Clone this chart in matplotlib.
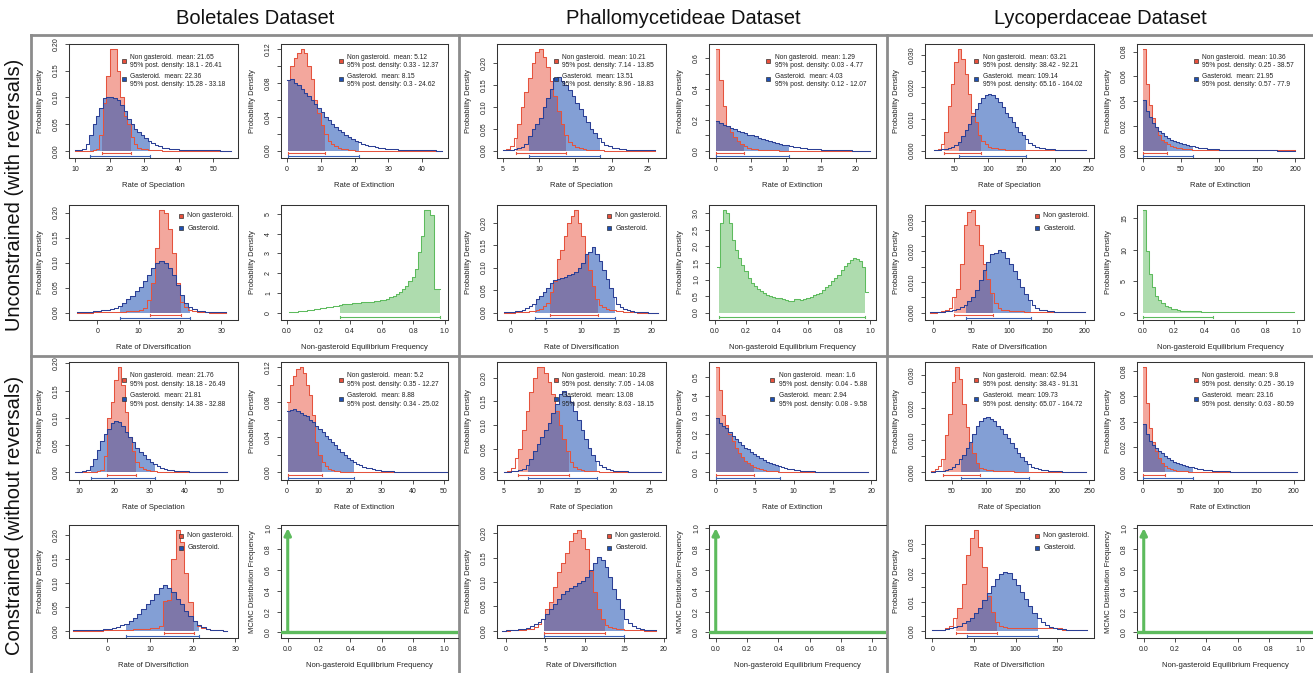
import numpy as np
import matplotlib
matplotlib.use("Agg")
import matplotlib.pyplot as plt

plt.rcParams['font.family'] = ['Liberation Sans', 'DejaVu Sans']

# ======================= DATA =======================
dataset_titles = ["Boletales Dataset", "Phallomycetideae Dataset", "Lycoperdaceae Dataset"]
row_titles = ["Unconstrained (with reversals)", "Constrained (without reversals)"]

# ---- Boletales, unconstrained ----
bol_u_spec_bins = (10.0, 1.0)
bol_u_spec_non = [0, 0, 0, 0, 0, 0.001, 0.003, 0.03, 0.09, 0.14, 0.19, 0.19, 0.15, 0.1, 0.065, 0.05, 0.025, 0.012,
                  0.006, 0.004, 0.003, 0.002, 0.001, 0.001, 0.001] + [0] * 20
bol_u_spec_gas = [0.0005, 0.001, 0.004, 0.012, 0.03, 0.05, 0.065, 0.08, 0.098, 0.1, 0.1, 0.098, 0.095, 0.085, 0.075,
                  0.06, 0.05, 0.04, 0.035, 0.029, 0.024, 0.018, 0.014, 0.01, 0.008, 0.006, 0.005, 0.004, 0.003,
                  0.0025, 0.002, 0.002, 0.0015, 0.0015, 0.001, 0.001, 0.001, 0.001, 0.0008, 0.0006, 0.0005, 0.0004,
                  0.0003, 0.0002, 0.0002]
bol_u_spec_hpd = [(17.8, 26.0), (14.4, 31.7)]
bol_u_spec_stats = ["21.65", "18.1 - 26.41", "22.36", "15.28 - 33.18"]

bol_u_ext_bins = (0.0, 1.0)
bol_u_ext_non = [0.083, 0.1, 0.11, 0.115, 0.12, 0.115, 0.1, 0.085, 0.06, 0.045, 0.03, 0.02, 0.012, 0.008, 0.005,
                 0.003, 0.002, 0.0015, 0.001, 0.001] + [0] * 26
bol_u_ext_gas = [0.084, 0.085, 0.08, 0.077, 0.073, 0.068, 0.064, 0.06, 0.055, 0.05,
                 0.046, 0.04, 0.036, 0.032, 0.028, 0.025, 0.022, 0.019, 0.016, 0.014,
                 0.012, 0.01, 0.008, 0.007, 0.006, 0.005, 0.004, 0.0035, 0.003, 0.0025,
                 0.002, 0.0018, 0.0015, 0.0012, 0.001, 0.001, 0.0008, 0.0007, 0.0006, 0.0005,
                 0.0005, 0.0004, 0.0003, 0.0003, 0.0002, 0.0002]
bol_u_ext_hpd = [(0.3, 11.2), (0.3, 21.2)]
bol_u_ext_stats = ["5.12", "0.33 - 12.37", "8.15", "0.3 - 24.62"]

bol_u_div_bins = (-5.0, 1.0)
bol_u_div_non = [0, 0, 0, 0, 0.001, 0.001, 0.001, 0.001, 0.001, 0.001,
                 0.002, 0.002, 0.003, 0.003, 0.004, 0.005,
                 0.01, 0.025, 0.06, 0.13, 0.205, 0.2, 0.168, 0.12, 0.06, 0.022, 0.012, 0.006, 0.003, 0.002,
                 0.001, 0.001, 0, 0, 0, 0]
bol_u_div_gas = [0.001, 0.001, 0.002, 0.002, 0.003, 0.004, 0.005, 0.006, 0.008, 0.01,
                 0.014, 0.02, 0.027, 0.034, 0.043, 0.052, 0.063, 0.075, 0.09, 0.1,
                 0.103, 0.1, 0.09, 0.075, 0.055, 0.035, 0.02, 0.012, 0.007, 0.004,
                 0.003, 0.002, 0.001, 0.001, 0.001, 0.001]
bol_u_div_hpd = [(12.8, 20.2), (5.4, 22.4)]

bol_u_freq_bins = (0.01, 0.02)
bol_u_freq = [0.02, 0.03, 0.05, 0.06, 0.08, 0.1, 0.12, 0.15, 0.17, 0.2,
              0.22, 0.24, 0.27, 0.3, 0.33, 0.36, 0.4, 0.42, 0.45, 0.46,
              0.48, 0.5, 0.5, 0.52, 0.52, 0.54, 0.55, 0.57, 0.6, 0.62,
              0.65, 0.7, 0.78, 0.85, 0.95, 1.05, 1.2, 1.35, 1.6, 1.8,
              2.2, 3.1, 3.9, 5.2, 5.2, 4.95, 1.2, 1.2]
bol_u_freq_hpd = (0.333, 0.97)

# ---- Phallomycetideae, unconstrained ----
pha_u_spec_bins = (5.0, 0.5)
pha_u_spec_non = [0.001, 0.004, 0.01, 0.03, 0.06, 0.1, 0.135, 0.165, 0.2, 0.225, 0.232, 0.215, 0.19, 0.16, 0.125,
                  0.09, 0.06, 0.035, 0.02, 0.012, 0.008, 0.005, 0.003, 0.002, 0.001, 0.001, 0.001, 0.001] + [0] * 14
pha_u_spec_gas = [0.001, 0.001, 0.002, 0.003, 0.005, 0.008, 0.015, 0.033, 0.05, 0.06,
                  0.075, 0.1, 0.12, 0.14, 0.165, 0.168, 0.16, 0.15, 0.138, 0.124,
                  0.11, 0.095, 0.08, 0.065, 0.05, 0.04, 0.03, 0.02, 0.014, 0.01,
                  0.007, 0.005, 0.004, 0.003, 0.002, 0.002, 0.001, 0.001, 0.001, 0.001, 0.001, 0.001]
pha_u_spec_hpd = [(6.9, 13.7), (8.6, 18.4)]
pha_u_spec_stats = ["10.21", "7.14 - 13.85", "13.51", "8.96 - 18.83"]

pha_u_ext_bins = (0.0, 0.5)
pha_u_ext_non = [0.66, 0.46, 0.29, 0.16, 0.12, 0.09, 0.065, 0.045, 0.03, 0.02,
                 0.014, 0.01, 0.007, 0.005, 0.004, 0.003, 0.002, 0.002, 0.001] + [0] * 25
pha_u_ext_gas = [0.195, 0.18, 0.17, 0.16, 0.15, 0.14, 0.13, 0.12, 0.115, 0.105,
                 0.1, 0.093, 0.085, 0.078, 0.07, 0.063, 0.057, 0.05, 0.045, 0.04,
                 0.035, 0.03, 0.026, 0.022, 0.019, 0.016, 0.014, 0.012, 0.01, 0.008,
                 0.007, 0.006, 0.005, 0.004, 0.003, 0.003, 0.002, 0.002, 0.002, 0.001,
                 0.001, 0.001, 0.001, 0.001]
pha_u_ext_hpd = [(0.0, 4.0), (0.0, 10.5)]
pha_u_ext_stats = ["1.29", "0.03 - 4.77", "4.03", "0.12 - 12.07"]

pha_u_div_bins = (-1.0, 0.5)
pha_u_div_non = [0, 0, 0, 0.001, 0.001, 0.002, 0.002, 0.003,
                 0.004, 0.006, 0.009, 0.014, 0.022, 0.045, 0.07, 0.12, 0.14, 0.17,
                 0.2, 0.215, 0.228, 0.2, 0.17, 0.13, 0.095, 0.06, 0.03, 0.018,
                 0.012, 0.008, 0.006, 0.005, 0.004, 0.003, 0.002, 0.002, 0.001, 0.001,
                 0, 0, 0, 0, 0, 0]
pha_u_div_gas = [0.001, 0.001, 0.002, 0.003, 0.004, 0.006, 0.01, 0.015,
                 0.02, 0.03, 0.038, 0.045, 0.055, 0.065, 0.072, 0.074, 0.076, 0.08, 0.083, 0.086, 0.09, 0.1,
                 0.11, 0.13, 0.135, 0.145, 0.13, 0.115, 0.095, 0.075, 0.055, 0.035,
                 0.02, 0.012, 0.008, 0.005, 0.003, 0.002, 0.001, 0.001, 0.001, 0, 0, 0]
pha_u_div_hpd = [(5.5, 12.4), (3.4, 14.8)]

pha_u_freq_bins = (0.01, 0.02)
pha_u_freq = [1.38, 2.7, 3.1, 3.0, 2.7, 2.2, 1.9, 1.65, 1.45, 1.25,
              1.05, 0.9, 0.8, 0.72, 0.65, 0.58, 0.52, 0.5, 0.47, 0.45,
              0.43, 0.4, 0.37, 0.34, 0.36, 0.4, 0.4, 0.39, 0.41, 0.44,
              0.48, 0.52, 0.55, 0.6, 0.68, 0.76, 0.85, 0.95, 1.05, 1.15,
              1.28, 1.4, 1.5, 1.6, 1.65, 1.62, 1.55, 1.38, 0.62]
pha_u_freq_hpd = (0.027, 0.965)

# ---- Lycoperdaceae, unconstrained ----
lyc_u_spec_bins = (20.0, 5.0)
lyc_u_spec_non = [0.0002, 0.0005, 0.002, 0.006, 0.014, 0.021, 0.028, 0.032, 0.029, 0.024, 0.018, 0.012, 0.009,
                  0.005, 0.003, 0.002, 0.0012, 0.001, 0.0007, 0.0005, 0.0004, 0.0003, 0.0002, 0.0002] + [0.0001] * 21
lyc_u_spec_gas = [0.0002, 0.0003, 0.0004, 0.0005, 0.0008, 0.0012, 0.0018, 0.0028, 0.0045, 0.0065,
                  0.0085, 0.011, 0.013, 0.015, 0.0165, 0.0175, 0.018, 0.0175, 0.0165, 0.0152,
                  0.0138, 0.012, 0.0105, 0.009, 0.0075, 0.006, 0.0048, 0.0036, 0.0025, 0.0018,
                  0.0013, 0.001, 0.0008, 0.0006, 0.0005, 0.0004, 0.0003, 0.0003, 0.0002, 0.0002,
                  0.0001, 0.0001, 0.0001, 0.0001, 0.0001]
lyc_u_spec_hpd = [(35.0, 90.0), (57.0, 157.0)]
lyc_u_spec_stats = ["63.21", "38.42 - 92.21", "109.14", "65.16 - 164.02"]

lyc_u_ext_bins = (0.0, 4.0)
lyc_u_ext_non = [0.082, 0.054, 0.037, 0.026, 0.019, 0.013, 0.009, 0.007, 0.005, 0.004,
                 0.003, 0.0025, 0.002, 0.0015, 0.0012, 0.001, 0.0008, 0.0006, 0.0005, 0.0004] + [0.0002] * 30
lyc_u_ext_gas = [0.041, 0.032, 0.027, 0.022, 0.019, 0.016, 0.014, 0.012, 0.0105, 0.009,
                 0.008, 0.007, 0.006, 0.005, 0.0045, 0.004, 0.0035, 0.003, 0.0025, 0.002,
                 0.0018, 0.0015, 0.0013, 0.0011, 0.001, 0.0009, 0.0008, 0.0007, 0.0006, 0.0006,
                 0.0005, 0.0005, 0.0004, 0.0004, 0.0004, 0.0003, 0.0003, 0.0003, 0.0003, 0.0002,
                 0.0002, 0.0002, 0.0002, 0.0002, 0.0001, 0.0001, 0.0001, 0.0001, 0.0001, 0.0001]
lyc_u_ext_hpd = [(0.0, 32.0), (0.0, 66.0)]
lyc_u_ext_stats = ["10.36", "0.25 - 38.57", "21.95", "0.57 - 77.9"]

lyc_u_div_bins = (-5.0, 5.0)
lyc_u_div_non = [0, 0, 0.0002, 0.0004, 0.0008, 0.0016, 0.005, 0.0078, 0.016, 0.0286,
                 0.033, 0.0335, 0.0285, 0.022, 0.016, 0.011, 0.0065, 0.003, 0.0015, 0.001,
                 0.0008, 0.0006, 0.0005, 0.0004, 0.0004, 0.0003, 0.0003] + [0.0002] * 14
lyc_u_div_gas = [0.0001, 0.0002, 0.0002, 0.0003, 0.0004, 0.0005, 0.0008, 0.0012, 0.0018, 0.0026,
                 0.0038, 0.0052, 0.0075, 0.0105, 0.014, 0.0165, 0.019, 0.0195, 0.0205, 0.0198,
                 0.018, 0.016, 0.0135, 0.011, 0.0085, 0.006, 0.004, 0.0024, 0.0015, 0.001,
                 0.0008, 0.0006, 0.0004, 0.0003, 0.0002, 0.0002, 0.0001, 0.0001, 0.0001, 0.0001, 0.0001]
lyc_u_div_hpd = [(27.4, 78.8), (43.4, 129.0)]

lyc_u_freq_bins = (0.0, 0.02)
lyc_u_freq = [16.3, 9.8, 6.2, 4.1, 2.7, 2.0, 1.5, 1.1, 0.85, 0.65,
              0.5, 0.4, 0.33, 0.28, 0.25, 0.22, 0.2, 0.19, 0.18, 0.17,
              0.17, 0.16, 0.16, 0.15, 0.15, 0.15, 0.15, 0.15, 0.15, 0.15,
              0.15, 0.15, 0.15, 0.15, 0.15, 0.15, 0.15, 0.15, 0.15, 0.15,
              0.15, 0.15, 0.15, 0.15, 0.15, 0.15, 0.15, 0.16, 0.16]
lyc_u_freq_hpd = (0.0, 0.453)

# ---- Boletales, constrained ----
bol_c_spec_bins = (9.0, 1.0)
bol_c_spec_non = [0, 0, 0, 0, 0, 0.001, 0.002,
                  0.005, 0.03, 0.1, 0.13, 0.17, 0.193, 0.16, 0.11, 0.065, 0.04, 0.02, 0.01, 0.006, 0.004, 0.003,
                  0.002, 0.001, 0.001, 0.001, 0.001] + [0] * 16
bol_c_spec_gas = [0, 0.001, 0.002, 0.005, 0.012, 0.025, 0.042, 0.058, 0.07, 0.08,
                  0.09, 0.095, 0.092, 0.085, 0.075, 0.065, 0.055, 0.045, 0.038, 0.032,
                  0.025, 0.02, 0.015, 0.012, 0.009, 0.007, 0.005, 0.004, 0.003, 0.0025,
                  0.002, 0.0018, 0.0015, 0.0012, 0.001, 0.001, 0.0008, 0.0006, 0.0005, 0.0004,
                  0.0003, 0.0002, 0.0002]
bol_c_spec_hpd = [(17.9, 26.2), (13.5, 31.4)]
bol_c_spec_stats = ["21.76", "18.18 - 26.49", "21.81", "14.38 - 32.88"]

bol_c_ext_bins = (0.0, 1.0)
bol_c_ext_non = [0.08, 0.1, 0.11, 0.118, 0.12, 0.113, 0.1, 0.088, 0.065, 0.035,
                 0.02, 0.012, 0.007, 0.004, 0.003, 0.002, 0.0015, 0.001, 0.001, 0.0008] + [0] * 31
bol_c_ext_gas = [0.07, 0.071, 0.072, 0.07, 0.068, 0.066, 0.064, 0.06, 0.057, 0.053,
                 0.05, 0.046, 0.042, 0.038, 0.035, 0.031, 0.027, 0.023, 0.02, 0.017,
                 0.014, 0.012, 0.01, 0.008, 0.0065, 0.0055, 0.0045, 0.0037, 0.003, 0.0025,
                 0.002, 0.0017, 0.0014, 0.0012, 0.001, 0.0008, 0.0007, 0.0006, 0.0005, 0.0005,
                 0.0004, 0.0004, 0.0003, 0.0003, 0.0003, 0.0002, 0.0002, 0.0002, 0.0001, 0.0001, 0.0001]
bol_c_ext_hpd = [(0.3, 11.0), (0.3, 21.2)]
bol_c_ext_stats = ["5.2", "0.35 - 12.27", "8.88", "0.34 - 25.02"]

bol_c_div_bins = (-8.0, 1.0)
bol_c_div_non = [0, 0, 0, 0, 0, 0, 0, 0.001, 0.001, 0.001, 0.001, 0.002, 0.002,
                 0.002, 0.003, 0.003, 0.004, 0.004, 0.005, 0.006, 0.01,
                 0.063, 0.065, 0.15, 0.21, 0.185, 0.12, 0.06, 0.02,
                 0.01, 0.005, 0.003, 0.002, 0.001, 0.001, 0]
bol_c_div_gas = [0.001, 0.001, 0.001, 0.001, 0.001, 0.002, 0.002, 0.003, 0.004, 0.006,
                 0.008, 0.011, 0.015, 0.02, 0.027, 0.035, 0.045, 0.055, 0.065, 0.077,
                 0.09, 0.095, 0.09, 0.08, 0.067, 0.055, 0.042, 0.03, 0.02, 0.012,
                 0.007, 0.004, 0.002, 0.001, 0.001, 0]
bol_c_div_hpd = [(13.2, 20.2), (4.3, 21.5)]

# ---- Phallomycetideae, constrained ----
pha_c_spec_bins = (5.0, 0.5)
pha_c_spec_non = [0.001, 0.003, 0.01, 0.03, 0.05, 0.09, 0.13, 0.17, 0.2, 0.222,
                  0.222, 0.21, 0.19, 0.165, 0.13, 0.1, 0.07, 0.045, 0.022, 0.012,
                  0.008, 0.005, 0.004, 0.003, 0.002, 0.002, 0.001, 0.001, 0.001, 0.001] + [0] * 13
pha_c_spec_gas = [0.001, 0.001, 0.002, 0.003, 0.005, 0.008, 0.015, 0.028, 0.045, 0.06,
                  0.075, 0.09, 0.105, 0.125, 0.145, 0.165, 0.172, 0.162, 0.148, 0.13,
                  0.11, 0.09, 0.07, 0.052, 0.037, 0.025, 0.016, 0.011, 0.008, 0.006,
                  0.004, 0.003, 0.002, 0.002, 0.001, 0.001, 0.001, 0.001, 0.001, 0, 0, 0, 0]
pha_c_spec_hpd = [(6.9, 13.9), (8.3, 17.7)]
pha_c_spec_stats = ["10.28", "7.05 - 14.08", "13.08", "8.63 - 18.15"]

pha_c_ext_bins = (0.0, 0.4)
pha_c_ext_non = [0.55, 0.43, 0.3, 0.25, 0.2, 0.165, 0.13, 0.1, 0.08, 0.062,
                 0.048, 0.037, 0.028, 0.022, 0.017, 0.013, 0.01, 0.008, 0.006, 0.005,
                 0.004, 0.003, 0.0025, 0.002, 0.0015, 0.001, 0.001, 0.001, 0.001, 0.001] + [0] * 19
pha_c_ext_gas = [0.285, 0.26, 0.245, 0.23, 0.21, 0.19, 0.175, 0.16, 0.145, 0.13,
                 0.12, 0.105, 0.095, 0.085, 0.075, 0.065, 0.057, 0.05, 0.043, 0.037,
                 0.032, 0.027, 0.023, 0.02, 0.017, 0.014, 0.012, 0.01, 0.0085, 0.007,
                 0.006, 0.005, 0.004, 0.0035, 0.003, 0.0025, 0.002, 0.0017, 0.0014, 0.0012,
                 0.001, 0.001, 0.0008, 0.0007, 0.0006, 0.0005, 0.0004, 0.0003, 0.0003]
pha_c_ext_hpd = [(0.0, 4.9), (0.0, 8.2)]
pha_c_ext_stats = ["1.6", "0.04 - 5.88", "2.94", "0.08 - 9.58"]

pha_c_div_bins = (-0.5, 0.5)
pha_c_div_non = [0, 0, 0.001, 0.001, 0.002, 0.002, 0.003, 0.004,
                 0.007, 0.013, 0.025, 0.045, 0.06, 0.09, 0.12, 0.14, 0.16, 0.185,
                 0.2, 0.207, 0.19, 0.168, 0.123, 0.08, 0.045, 0.025, 0.012, 0.007,
                 0.005, 0.004, 0.003, 0.002, 0.002, 0.001, 0.001, 0.001, 0, 0, 0]
pha_c_div_gas = [0.0005, 0.001, 0.001, 0.002, 0.003, 0.004, 0.006, 0.009, 0.013, 0.018,
                 0.025, 0.035, 0.045, 0.055, 0.065, 0.075, 0.082, 0.088, 0.093, 0.098,
                 0.103, 0.11, 0.125, 0.14, 0.152, 0.145, 0.13, 0.11, 0.085, 0.065,
                 0.045, 0.025, 0.015, 0.01, 0.006, 0.004, 0.002, 0.001, 0.001]
pha_c_div_hpd = [(4.8, 12.5), (4.8, 15.0)]

# ---- Lycoperdaceae, constrained ----
lyc_c_spec_bins = (20.0, 5.0)
lyc_c_spec_non = [0.0003, 0.001, 0.002, 0.004, 0.0115, 0.018, 0.028, 0.0325, 0.029, 0.021,
                  0.014, 0.0095, 0.006, 0.003, 0.0015, 0.001, 0.0008, 0.0006, 0.0005, 0.0004,
                  0.0004, 0.0003, 0.0003, 0.0003, 0.0002] + [0.0002] * 20
lyc_c_spec_gas = [0.0002, 0.0003, 0.0004, 0.0005, 0.0008, 0.0012, 0.0018, 0.0025, 0.004, 0.0055,
                  0.0075, 0.0095, 0.012, 0.0145, 0.016, 0.0168, 0.017, 0.0165, 0.016, 0.0145,
                  0.0135, 0.012, 0.0105, 0.009, 0.0075, 0.006, 0.0048, 0.0035, 0.0025, 0.0018,
                  0.0013, 0.001, 0.0008, 0.0006, 0.0005, 0.0004, 0.0003, 0.0003, 0.0002, 0.0002,
                  0.0001, 0.0001, 0.0001, 0.0001, 0.0001]
lyc_c_spec_hpd = [(37.8, 91.0), (63.0, 163.0)]
lyc_c_spec_stats = ["62.94", "38.43 - 91.31", "109.73", "65.07 - 164.72"]

lyc_c_ext_bins = (0.0, 4.0)
lyc_c_ext_non = [0.083, 0.055, 0.035, 0.024, 0.017, 0.011, 0.0075, 0.005, 0.0035, 0.0025,
                 0.002, 0.0015, 0.0012, 0.001, 0.0008, 0.0006, 0.0005, 0.0004, 0.0003, 0.0003] + [0.0002] * 31
lyc_c_ext_gas = [0.038, 0.03, 0.025, 0.022, 0.019, 0.017, 0.015, 0.013, 0.011, 0.0095,
                 0.0085, 0.0075, 0.0065, 0.0055, 0.005, 0.0045, 0.004, 0.0035, 0.003, 0.0026,
                 0.0023, 0.002, 0.0017, 0.0015, 0.0013, 0.0011, 0.001, 0.0009, 0.0008, 0.0007,
                 0.0006, 0.0005, 0.0005, 0.0004, 0.0004, 0.0003, 0.0003, 0.0003, 0.0002, 0.0002,
                 0.0002, 0.0002, 0.0002, 0.0001, 0.0001, 0.0001, 0.0001, 0.0001, 0.0001, 0.0001, 0.0001]
lyc_c_ext_hpd = [(0.0, 28.6), (0.0, 67.0)]
lyc_c_ext_stats = ["9.8", "0.25 - 36.19", "23.16", "0.63 - 80.59"]

lyc_c_div_bins = (0.0, 5.0)
lyc_c_div_non = [0.0001, 0.0002, 0.0004, 0.0008, 0.0015, 0.0045, 0.008, 0.016, 0.026, 0.032,
                 0.0347, 0.029, 0.022, 0.012, 0.0066, 0.003, 0.0015, 0.0012, 0.001, 0.0009] \
                + [0.0008] * 11 + [0.0002] * 6
lyc_c_div_gas = [0.0001, 0.0002, 0.0003, 0.0005, 0.0008, 0.0012, 0.0018, 0.0026, 0.0035, 0.0045,
                 0.006, 0.008, 0.0105, 0.013, 0.0155, 0.018, 0.0195, 0.0202, 0.0198, 0.018,
                 0.0158, 0.0135, 0.011, 0.0085, 0.0062, 0.0045, 0.003, 0.002, 0.0014, 0.001,
                 0.0007, 0.0005, 0.0003, 0.0002, 0.0002, 0.0001, 0.0001]
lyc_c_div_hpd = [(28.0, 77.0), (41.5, 126.5)]

# ---- constrained equilibrium frequency: all MCMC samples at 0 ----
mcmc_freq_x = [0.0]
mcmc_freq_y = [1.0]

# ======================= STYLE / LAYOUT =======================
RED_LINE = "#E5533D"
RED_FILL = "#E8503C"
BLUE_LINE = "#2B3F95"
BLUE_FILL = "#1E50B4"
BLUE_BAR = "#3A62B5"
GREEN_LINE = "#5DBB5D"
GREEN_FILL = "#6CC06C"
TXT = "#222222"

W, H = 1313, 673
fig = plt.figure(figsize=(W / 100, H / 100), dpi=100)

bg = fig.add_axes([0, 0, 1, 1], zorder=-5)
bg.set_xlim(0, W)
bg.set_ylim(H, 0)
bg.axis('off')

COL_X0 = [30, 458, 886]
ROW_Y = [(44, 158), (205, 320), (362, 480), (525, 638)]
SIDE_X = [(39, 208), (251, 418)]


def make_ax(col, row, side, right_extra=0):
    x0 = COL_X0[col] + SIDE_X[side][0]
    x1 = COL_X0[col] + SIDE_X[side][1] + right_extra
    y0, y1 = ROW_Y[row]
    return fig.add_axes([x0 / W, 1 - y1 / H, (x1 - x0) / W, (y1 - y0) / H])


def style_ax(ax, xlim, ylim, xticks, xlabels, yticks, ylabels, xlabel, ylabel):
    ax.set_xlim(*xlim)
    ax.set_ylim(*ylim)
    ax.set_xticks(xticks)
    ax.set_xticklabels(xlabels)
    ax.set_yticks(yticks)
    ax.set_yticklabels(ylabels, rotation=90, va='center')
    ax.tick_params(direction='out', length=3.0, width=0.6, labelsize=5, colors='#333333', labelcolor=TXT)
    ax.tick_params(axis='x', pad=2.5)
    ax.tick_params(axis='y', pad=3.5)
    for s in ax.spines.values():
        s.set_linewidth(0.75)
        s.set_color('#333333')
    ax.set_xlabel(xlabel, fontsize=5.5, labelpad=7.0, color=TXT)
    ax.set_ylabel(ylabel, fontsize=5.5, labelpad=6.5, color=TXT)


def hist_geom(bins, h):
    start, width = bins
    h = np.asarray(h, float)
    edges = start + width * np.arange(len(h) + 1)
    return edges, h


def fill_hpd(ax, bins, h, hpd, color, alpha, z):
    edges, h = hist_geom(bins, h)
    lo, hi = hpd
    xs, ys = [lo], [0.0]
    for i in range(len(h)):
        a, b = edges[i], edges[i + 1]
        if b <= lo or a >= hi:
            continue
        xs += [max(a, lo), min(b, hi)]
        ys += [h[i], h[i]]
    xs.append(hi)
    ys.append(0.0)
    ax.fill(xs, ys, facecolor=color, alpha=alpha, edgecolor='none', zorder=z)


def outline(ax, bins, h, color, z):
    edges, h = hist_geom(bins, h)
    ax.step(edges, np.append(h, h[-1]), where='post', color=color, lw=0.75, zorder=z)


def ci_bar(ax, hpd, y, cap, color):
    lo, hi = hpd
    ax.plot([lo, hi], [y, y], color=color, lw=0.8, zorder=5, solid_capstyle='butt')
    for xx in (lo, hi):
        ax.plot([xx, xx], [y - cap, y + cap], color=color, lw=0.8, zorder=5)


def pair_panel(ax, bins, non, gas, hpd):
    p = max(max(non), max(gas))
    fill_hpd(ax, bins, non, hpd[0], RED_FILL, 0.5, 2)
    fill_hpd(ax, bins, gas, hpd[1], BLUE_FILL, 0.55, 3)
    outline(ax, bins, non, RED_LINE, 4)
    outline(ax, bins, gas, BLUE_LINE, 4.5)
    ci_bar(ax, hpd[0], -0.026 * p, 0.011 * p, RED_LINE)
    ci_bar(ax, hpd[1], -0.052 * p, 0.011 * p, BLUE_BAR)
    return (-0.072 * p, 1.05 * p)


def green_panel(ax, bins, h, hpd):
    p = max(h)
    fill_hpd(ax, bins, h, hpd, GREEN_FILL, 0.55, 2)
    outline(ax, bins, h, GREEN_LINE, 4)
    ci_bar(ax, hpd, -0.042 * p, 0.011 * p, GREEN_LINE)
    return (-0.072 * p, 1.05 * p)


def stats_legend(ax, sx, tx, stats):
    lines = ["Non gasteroid.  mean: " + stats[0], "95% post. density: " + stats[1],
             "Gasteroid.  mean: " + stats[2], "95% post. density: " + stats[3]]
    for t, y in zip(lines, [0.885, 0.812, 0.715, 0.642]):
        ax.text(tx, y, t, transform=ax.transAxes, fontsize=4.8, va='center', ha='left', color=TXT, zorder=6)
    ax.plot([sx], [0.848], 's', transform=ax.transAxes, ms=2.6, mfc=RED_FILL, mec='#333333', mew=0.5, zorder=6)
    ax.plot([sx], [0.69], 's', transform=ax.transAxes, ms=2.6, mfc=BLUE_FILL, mec='#333333', mew=0.5, zorder=6)


def div_legend(ax):
    for y, c, t in [(0.905, RED_FILL, "Non gasteroid."), (0.797, BLUE_FILL, "Gasteroid.")]:
        ax.plot([0.665], [y], 's', transform=ax.transAxes, ms=2.6, mfc=c, mec='#333333', mew=0.5, zorder=6)
        ax.text(0.70, y, t, transform=ax.transAxes, fontsize=5.0, va='center', ha='left', color=TXT, zorder=6)


def yt(vals, fmt, every=1):
    return list(vals), [fmt.format(v) if i % every == 0 else '' for i, v in enumerate(vals)]


PD = "Probability Density"
FREQ_X = "Non-gasteroid Equilibrium Frequency"
x01 = ([0, 0.2, 0.4, 0.6, 0.8, 1.0], ["0.0", "0.2", "0.4", "0.6", "0.8", "1.0"])

# ---------- pair panels (speciation / extinction / diversification) ----------
pair_specs = [
    (0, 0, 0, bol_u_spec_bins, bol_u_spec_non, bol_u_spec_gas, bol_u_spec_hpd, bol_u_spec_stats, (0.325, 0.36),
     (8.2, 57.1), [10, 20, 30, 40, 50], yt(np.arange(0, 0.201, 0.05), "{:.2f}"), "Rate of Speciation"),
    (0, 0, 1, bol_u_ext_bins, bol_u_ext_non, bol_u_ext_gas, bol_u_ext_hpd, bol_u_ext_stats, (0.358, 0.394),
     (-1.8, 47.7), [0, 10, 20, 30, 40], yt(np.arange(0, 0.121, 0.02), "{:.2f}", 2), "Rate of Extinction"),
    (0, 1, 0, bol_u_div_bins, bol_u_div_non, bol_u_div_gas, bol_u_div_hpd, None, None,
     (-6.85, 34.0), [0, 10, 20, 30], yt(np.arange(0, 0.201, 0.05), "{:.2f}"), "Rate of Diversification"),
    (1, 0, 0, pha_u_spec_bins, pha_u_spec_non, pha_u_spec_gas, pha_u_spec_hpd, pha_u_spec_stats, (0.347, 0.383),
     (4.22, 27.5), [5, 10, 15, 20, 25], yt(np.arange(0, 0.201, 0.05), "{:.2f}"), "Rate of Speciation"),
    (1, 0, 1, pha_u_ext_bins, pha_u_ext_non, pha_u_ext_gas, pha_u_ext_hpd, pha_u_ext_stats, (0.356, 0.396),
     (-0.95, 22.9), [0, 5, 10, 15, 20], yt(np.arange(0, 0.61, 0.1), "{:.1f}", 2), "Rate of Extinction"),
    (1, 1, 0, pha_u_div_bins, pha_u_div_non, pha_u_div_gas, pha_u_div_hpd, None, None,
     (-2.0, 22.1), [0, 5, 10, 15, 20], yt(np.arange(0, 0.201, 0.05), "{:.2f}"), "Rate of Diversification"),
    (2, 0, 0, lyc_u_spec_bins, lyc_u_spec_non, lyc_u_spec_gas, lyc_u_spec_hpd, lyc_u_spec_stats, (0.303, 0.341),
     (6.2, 257.5), [50, 100, 150, 200, 250], yt(np.arange(0, 0.0301, 0.005), "{:.3f}", 2), "Rate of Speciation"),
    (2, 0, 1, lyc_u_ext_bins, lyc_u_ext_non, lyc_u_ext_gas, lyc_u_ext_hpd, lyc_u_ext_stats, (0.352, 0.392),
     (-7.8, 211.7), [0, 50, 100, 150, 200], yt(np.arange(0, 0.081, 0.02), "{:.2f}"), "Rate of Extinction"),
    (2, 1, 0, lyc_u_div_bins, lyc_u_div_non, lyc_u_div_gas, lyc_u_div_hpd, None, None,
     (-11.1, 212.4), [0, 50, 100, 150, 200], yt(np.arange(0, 0.0301, 0.005), "{:.3f}", 2), "Rate of Diversification"),
    (0, 2, 0, bol_c_spec_bins, bol_c_spec_non, bol_c_spec_gas, bol_c_spec_hpd, bol_c_spec_stats, (0.325, 0.363),
     (7.2, 55.0), [10, 20, 30, 40, 50], yt(np.arange(0, 0.201, 0.05), "{:.2f}"), "Rate of Speciation"),
    (0, 2, 1, bol_c_ext_bins, bol_c_ext_non, bol_c_ext_gas, bol_c_ext_hpd, bol_c_ext_stats, (0.358, 0.398),
     (-1.94, 51.3), [0, 10, 20, 30, 40, 50], yt(np.arange(0, 0.121, 0.02), "{:.2f}", 2), "Rate of Extinction"),
    (0, 3, 0, bol_c_div_bins, bol_c_div_non, bol_c_div_gas, bol_c_div_hpd, None, None,
     (-8.96, 30.6), [0, 10, 20, 30], yt(np.arange(0, 0.201, 0.05), "{:.2f}"), "Rate of Diversifiction"),
    (1, 2, 0, pha_c_spec_bins, pha_c_spec_non, pha_c_spec_gas, pha_c_spec_hpd, pha_c_spec_stats, (0.347, 0.387),
     (4.07, 27.2), [5, 10, 15, 20, 25], yt(np.arange(0, 0.201, 0.05), "{:.2f}"), "Rate of Speciation"),
    (1, 2, 1, pha_c_ext_bins, pha_c_ext_non, pha_c_ext_gas, pha_c_ext_hpd, pha_c_ext_stats, (0.38, 0.42),
     (-0.9, 20.6), [0, 5, 10, 15, 20], yt(np.arange(0, 0.51, 0.1), "{:.1f}"), "Rate of Extinction"),
    (1, 3, 0, pha_c_div_bins, pha_c_div_non, pha_c_div_gas, pha_c_div_hpd, None, None,
     (-1.14, 20.3), [0, 5, 10, 15, 20], yt(np.arange(0, 0.201, 0.05), "{:.2f}"), "Rate of Diversifiction"),
    (2, 2, 0, lyc_c_spec_bins, lyc_c_spec_non, lyc_c_spec_gas, lyc_c_spec_hpd, lyc_c_spec_stats, (0.303, 0.341),
     (11.0, 257.0), [50, 100, 150, 200, 250], yt(np.arange(0, 0.0301, 0.005), "{:.3f}", 2), "Rate of Speciation"),
    (2, 2, 1, lyc_c_ext_bins, lyc_c_ext_non, lyc_c_ext_gas, lyc_c_ext_hpd, lyc_c_ext_stats, (0.352, 0.392),
     (-7.9, 213.7), [0, 50, 100, 150, 200], yt(np.arange(0, 0.081, 0.02), "{:.2f}"), "Rate of Extinction"),
    (2, 3, 0, lyc_c_div_bins, lyc_c_div_non, lyc_c_div_gas, lyc_c_div_hpd, None, None,
     (-8.8, 194.0), [0, 50, 100, 150], yt(np.arange(0, 0.0301, 0.005), "{:.2f}", 2), "Rate of Diversifiction"),
]

for (col, row, side, bins, non, gas, hpd, stats, legx, xlim, xt, ytk, xlab) in pair_specs:
    ax = make_ax(col, row, side)
    ylim = pair_panel(ax, bins, non, gas, hpd)
    style_ax(ax, xlim, ylim, xt, [str(v) for v in xt], ytk[0], ytk[1], xlab, PD)
    if stats is not None:
        stats_legend(ax, legx[0], legx[1], stats)
    else:
        div_legend(ax)

# ---------- equilibrium frequency (unconstrained) ----------
green_specs = [
    (0, 1, bol_u_freq_bins, bol_u_freq, bol_u_freq_hpd, (-0.038, 1.021), yt(range(0, 6), "{:d}")),
    (1, 1, pha_u_freq_bins, pha_u_freq, pha_u_freq_hpd, (-0.039, 1.039), yt(np.arange(0, 3.01, 0.5), "{:.1f}")),
    (2, 1, lyc_u_freq_bins, lyc_u_freq, lyc_u_freq_hpd, (-0.039, 1.048), yt(range(0, 16, 5), "{:d}")),
]
for (col, row, bins, h, hpd, xlim, ytk) in green_specs:
    ax = make_ax(col, row, 1)
    ylim = green_panel(ax, bins, h, hpd)
    style_ax(ax, xlim, ylim, x01[0], x01[1], ytk[0], ytk[1], FREQ_X, PD)

# ---------- equilibrium frequency (constrained): MCMC ----------
for col in range(3):
    ax = make_ax(col, 3, 1, right_extra=10)
    ax.axhline(0, color=GREEN_LINE, lw=2.4, zorder=3)
    for xv, yv in zip(mcmc_freq_x, mcmc_freq_y):
        ax.annotate('', xy=(xv, yv), xytext=(xv, 0),
                    arrowprops=dict(arrowstyle='-|>', color=GREEN_LINE, lw=2.2, mutation_scale=10,
                                    shrinkA=0, shrinkB=0), zorder=4)
    yv_t = [0, 0.2, 0.4, 0.6, 0.8, 1.0]
    style_ax(ax, (-0.043, 1.088), (-0.053, 1.03), x01[0], x01[1], yv_t,
             ["0.0", "0.2", "0.4", "0.6", "0.8", "1.0"], FREQ_X, "MCMC Distribution Frequency")
    ax.spines['right'].set_visible(False)

# ---------- frame, titles, row labels ----------
FRAME = "#8c8c8c"
bg.plot([31, W], [35, 35], color=FRAME, lw=2.0)
bg.plot([31, 31], [35, H], color=FRAME, lw=2.0)
bg.plot([459, 459], [35, H], color=FRAME, lw=2.0)
bg.plot([887, 887], [35, H], color=FRAME, lw=2.0)
bg.plot([31, W], [356, 356], color=FRAME, lw=2.0)

for cx, t in zip([255, 683, 1100], dataset_titles):
    bg.text(cx, 18, t, fontsize=14.5, ha='center', va='center', color='#111111')
for cy, t in zip([195, 515], row_titles):
    bg.text(15, cy, t, fontsize=14.5, ha='center', va='center', rotation=90, color='#111111')

fig.savefig("out.png", dpi=100)
